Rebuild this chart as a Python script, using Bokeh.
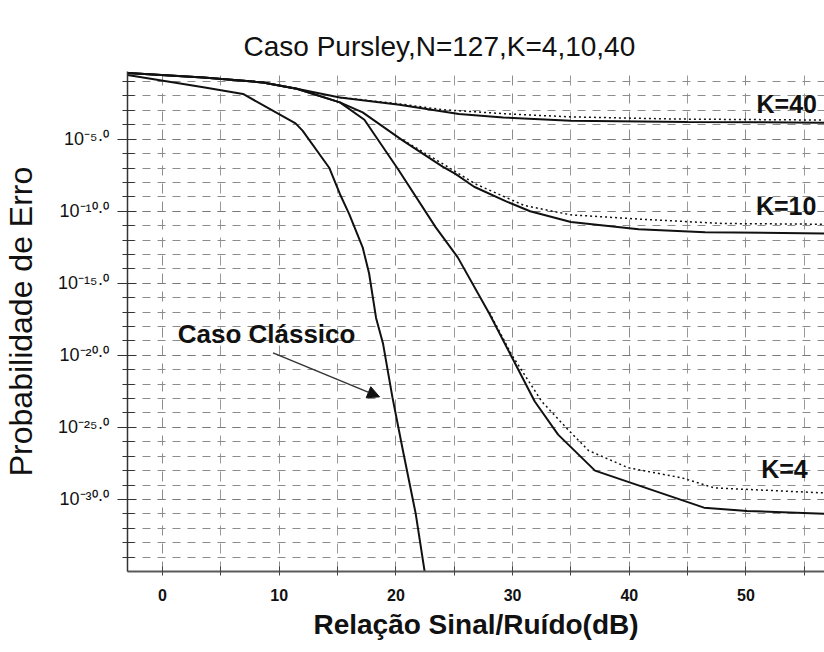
from bokeh.plotting import figure
from bokeh.models import (Range1d, FixedTicker, Label, Arrow, NormalHead,
                          CustomJSTickFormatter)
from bokeh.embed import file_html
from bokeh.resources import INLINE

# ---- data: SNR in dB, log10 of the error probability ----
classic_snr = [-3, 3.5, 6.9, 11.4, 12.0, 14.3, 15.2, 16.0, 17.15, 17.7, 18.3, 18.9, 19.7, 20.6, 21.7, 22.5]
classic_exp = [-0.55, -1.4, -1.86, -3.9, -4.4, -7.0, -8.8, -10.2, -12.5, -14.3, -17.4, -19.2, -22.9, -26.6, -31.0, -35.2]

k40_snr = [-3, 3.5, 8.6, 11.5, 15.2, 20.3, 25.4, 29.2, 35.0, 45.0, 56.8]
k40_exp = [-0.4, -0.71, -1.06, -1.5, -2.1, -2.6, -3.25, -3.49, -3.72, -3.8, -3.85]
k40_dot_snr = [15.2, 20.3, 24.0, 29.7, 35.0, 43.9, 56.8]
k40_dot_exp = [-2.1, -2.55, -2.95, -3.25, -3.45, -3.6, -3.67]

k10_snr = [-3, 3.5, 8.6, 11.5, 15.2, 17.15, 20.6, 24.0, 25.1, 26.7, 29.4, 31.5, 35.0, 40.8, 46.5, 56.8]
k10_exp = [-0.4, -0.71, -1.06, -1.5, -2.44, -3.14, -5.1, -6.9, -7.4, -8.3, -9.3, -10.0, -10.75, -11.24, -11.45, -11.55]
k10_dot_snr = [20.6, 24.0, 26.8, 31.0, 35.0, 41.0, 48.0, 56.8]
k10_dot_exp = [-5.05, -6.7, -8.1, -9.6, -10.25, -10.55, -10.85, -10.9]

k4_snr = [-3, 3.5, 8.6, 11.5, 15.2, 17.3, 20.2, 23.4, 25.3, 28.0, 29.95, 31.9, 33.9, 37.06, 46.4, 50.1, 56.8]
k4_exp = [-0.4, -0.71, -1.06, -1.5, -2.44, -3.65, -7.1, -11.1, -13.2, -17.1, -20.15, -23.2, -25.5, -28.0, -30.57, -30.8, -31.0]
k4_dot_snr = [28.0, 29.95, 32.5, 34.8, 36.5, 39.9, 44.5, 47.3, 56.8]
k4_dot_exp = [-17.0, -20.0, -23.2, -25.2, -26.6, -27.8, -28.5, -29.2, -29.55]

x_major_ticks = [0, 10, 20, 30, 40, 50]
x_minor_ticks = [5, 15, 25, 35, 45, 55]
y_major_exps = [-5, -10, -15, -20, -25, -30]
y_minor_exps = list(range(-1, -35, -1))
y_tick_labels = ["10⁻⁵·⁰", "10⁻¹⁰·⁰", "10⁻¹⁵·⁰", "10⁻²⁰·⁰", "10⁻²⁵·⁰", "10⁻³⁰·⁰"]

title_text = "Caso Pursley,N=127,K=4,10,40"
xlabel_text = "Relação Sinal/Ruído(dB)"
ylabel_text = "Probabilidade de Erro"


def p10(exps):
    return [10.0 ** e for e in exps]


FONT = "Liberation Sans"
W, H = 824, 650
LEFT, TOP, FH = 124, 71, 500

p = figure(width=W, height=H, output_backend="svg", toolbar_location=None,
           y_axis_type="log",
           x_range=Range1d(-3, -3 + (W - LEFT) / 11.72), y_range=Range1d(1e-35, 10 ** -0.3),
           min_border_left=LEFT, min_border_right=0, min_border_top=TOP,
           min_border_bottom=H - TOP - FH)
p.outline_line_color = None
p.background_fill_color = "white"
p.border_fill_color = "white"

# title
p.title.text = title_text
p.title.align = "left"
p.title.offset = 240 - LEFT
p.title.text_font = FONT
p.title.text_font_size = "28px"
p.title.text_font_style = "normal"
p.title.text_color = "#111"
p.title.standoff = 20

# x axis
p.xaxis.ticker = FixedTicker(ticks=x_major_ticks, minor_ticks=x_minor_ticks)
p.xaxis.axis_line_color = "#5a5a5a"
p.xaxis.axis_line_width = 2
p.xaxis.major_tick_line_color = "#444"
p.xaxis.major_tick_in = 5
p.xaxis.major_tick_out = 4
p.xaxis.minor_tick_line_color = "#444"
p.xaxis.minor_tick_in = 5
p.xaxis.minor_tick_out = 4
p.xaxis.major_label_text_font = FONT
p.xaxis.major_label_text_font_style = "bold"
p.xaxis.major_label_text_font_size = "16px"
p.xaxis.major_label_text_color = "#111"
p.xaxis.major_label_standoff = 13
p.xaxis.axis_label = xlabel_text
p.xaxis.axis_label_text_font = FONT
p.xaxis.axis_label_text_font_size = "28px"
p.xaxis.axis_label_text_font_style = "bold"
p.xaxis.axis_label_text_color = "#111"
p.xaxis.axis_label_standoff = 5

# y axis
p.yaxis.ticker = FixedTicker(ticks=p10(y_major_exps), minor_ticks=p10(y_minor_exps))
p.yaxis.formatter = CustomJSTickFormatter(
    args=dict(exps=y_major_exps, labels=y_tick_labels),
    code="const e = Math.round(Math.log10(tick)); const i = exps.indexOf(e); "
         "return i >= 0 ? labels[i] : '';")
p.yaxis.axis_line_color = "#333"
p.yaxis.axis_line_width = 1.5
p.yaxis.major_tick_line_color = "#333"
p.yaxis.major_tick_in = 9
p.yaxis.major_tick_out = 10
p.yaxis.minor_tick_line_color = "#333"
p.yaxis.minor_tick_in = 7
p.yaxis.minor_tick_out = 5
p.yaxis.major_label_text_font = FONT
p.yaxis.major_label_text_font_size = "18px"
p.yaxis.major_label_text_color = "#111"
p.yaxis.major_label_standoff = 8
p.yaxis.axis_label = ylabel_text
p.yaxis.axis_label_text_font = FONT
p.yaxis.axis_label_text_font_size = "32px"
p.yaxis.axis_label_text_font_style = "normal"
p.yaxis.axis_label_text_color = "#111"
p.yaxis.axis_label_standoff = 16

# grid
p.xgrid.grid_line_color = "#8c8c8c"
p.xgrid.grid_line_dash = "10 8"
p.xgrid.minor_grid_line_color = "#9a9a9a"
p.xgrid.minor_grid_line_dash = "10 8"
p.ygrid.grid_line_color = "#7a7a7a"
p.ygrid.grid_line_dash = "8 7"
p.ygrid.minor_grid_line_color = "#8c8c8c"
p.ygrid.minor_grid_line_dash = "8 7"

# curves
LC = "#111111"
p.line(classic_snr, p10(classic_exp), line_color=LC, line_width=2)
p.line(k40_snr, p10(k40_exp), line_color=LC, line_width=2)
p.line(k10_snr, p10(k10_exp), line_color=LC, line_width=2)
p.line(k4_snr, p10(k4_exp), line_color=LC, line_width=2)
p.line(k40_dot_snr, p10(k40_dot_exp), line_color=LC, line_width=1.5, line_dash="2 3")
p.line(k10_dot_snr, p10(k10_dot_exp), line_color=LC, line_width=1.5, line_dash="2 3")
p.line(k4_dot_snr, p10(k4_dot_exp), line_color=LC, line_width=1.5, line_dash="2 3")

# curve labels
for txt, xx, ee in [("K=40", 50.9, -2.53), ("K=10", 50.85, -9.6), ("K=4", 51.3, -27.9)]:
    p.add_layout(Label(x=xx, y=10.0 ** ee, text=txt, text_font=FONT, text_font_size="25px",
                       text_font_style="bold", text_baseline="middle", text_align="left",
                       text_color="#111"))
p.add_layout(Label(x=1.3, y=10.0 ** -18.5, text="Caso Clássico", text_font=FONT,
                   text_font_size="26px", text_font_style="bold", text_baseline="middle",
                   text_align="left", text_color="#111"))
p.add_layout(Arrow(end=NormalHead(size=12, fill_color="#111", line_color="#111"),
                   x_start=9.47, y_start=10.0 ** -19.83, x_end=18.6, y_end=10.0 ** -22.88,
                   line_color="#333", line_width=1.5))

open("out.html", "w").write(file_html(p, INLINE))
